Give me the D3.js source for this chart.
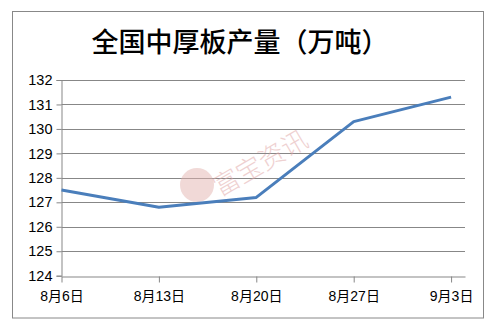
<!DOCTYPE html>
<html>
<head>
<meta charset="utf-8">
<script src="https://cdn.jsdelivr.net/npm/d3@7"></script>
<style>
  body { margin: 0; background: #fff; }
  svg text { font-family: "Liberation Sans", "Noto Sans CJK SC", sans-serif; }
</style>
</head>
<body>
<div id="chart"></div>
<script>
// data
var dates = ["2018-08-06", "2018-08-13", "2018-08-20", "2018-08-27", "2018-09-03"];
var output = [127.5, 126.8, 127.2, 130.3, 131.3];
var yTicks = [124, 125, 126, 127, 128, 129, 130, 131, 132];
var title = "全国中厚板产量（万吨）";

var W = 498, H = 331;
var margin = {top: 80, right: 33, bottom: 55, left: 61.5};
var parse = d3.timeParse("%Y-%m-%d");
var pts = dates.map(function(d, i) { return {date: parse(d), v: output[i]}; });

var svg = d3.select("#chart").append("svg")
  .attr("width", W).attr("height", H);

// outer frame
svg.append("rect")
  .attr("x", 12.5).attr("y", 11.5)
  .attr("width", 471).attr("height", 306.5)
  .attr("fill", "#fff").attr("stroke", "#888").attr("stroke-width", 1);

svg.append("text")
  .attr("x", 240).attr("y", 52)
  .attr("text-anchor", "middle")
  .attr("font-size", 27)
  .style("font-family", "'Noto Sans CJK SC', sans-serif")
  .attr("font-weight", 500)
  .attr("fill", "#000")
  .text(title);

var xScale = d3.scaleTime()
  .domain([parse("2018-08-06"), parse("2018-09-04")])
  .range([margin.left, 465]);

var yScale = d3.scaleLinear()
  .domain([124, 132])
  .range([275.7, 80]);

// gridlines
svg.append("g")
  .selectAll("line")
  .data(yTicks.slice(1))
  .enter().append("line")
  .attr("x1", margin.left).attr("x2", 465)
  .attr("y1", function(d) { return Math.round(yScale(d)) + 0.5; })
  .attr("y2", function(d) { return Math.round(yScale(d)) + 0.5; })
  .attr("stroke", "#878787").attr("stroke-width", 1);

// watermark
var wm = svg.append("g").attr("opacity", 0.5);
wm.append("circle")
  .attr("cx", 197).attr("cy", 185).attr("r", 17)
  .attr("fill", "#e4b4b0");
wm.append("text")
  .attr("transform", "translate(220,197) rotate(-30)")
  .attr("font-size", 26)
  .style("font-family", "'Noto Sans CJK SC', sans-serif")
  .attr("font-weight", 300)
  .attr("fill", "#dfa4a4")
  .text("富宝资讯");

// y axis
var yAxis = d3.axisLeft(yScale).tickValues(yTicks).tickSize(5).tickPadding(4);
var gy = svg.append("g")
  .attr("transform", "translate(" + margin.left + ",0)")
  .call(yAxis);
gy.select(".domain").attr("stroke", "#878787");
gy.selectAll(".tick line").attr("stroke", "#878787");
gy.selectAll(".tick text").attr("font-size", 14.5).attr("fill", "#000");

// x axis
var xAxis = d3.axisBottom(xScale)
  .tickValues(pts.map(function(d) { return d.date; }))
  .tickFormat(function(d) { return (d.getMonth() + 1) + "月" + d.getDate() + "日"; })
  .tickSize(6).tickPadding(9).tickSizeOuter(0);
var gx = svg.append("g")
  .attr("transform", "translate(0," + (Math.round(yScale(124)) + 0.5) + ")")
  .call(xAxis);
gx.select(".domain").attr("stroke", "#878787");
gx.selectAll(".tick line").attr("stroke", "#878787");
gx.selectAll(".tick text").attr("font-size", 14).attr("fill", "#000");

// line
var line = d3.line()
  .x(function(d) { return xScale(d.date); })
  .y(function(d) { return yScale(d.v); });
svg.append("path")
  .datum(pts)
  .attr("d", line)
  .attr("fill", "none")
  .attr("stroke", "#4a7ebb")
  .attr("stroke-width", 3)
  .attr("stroke-linejoin", "round");
</script>
</body>
</html>
